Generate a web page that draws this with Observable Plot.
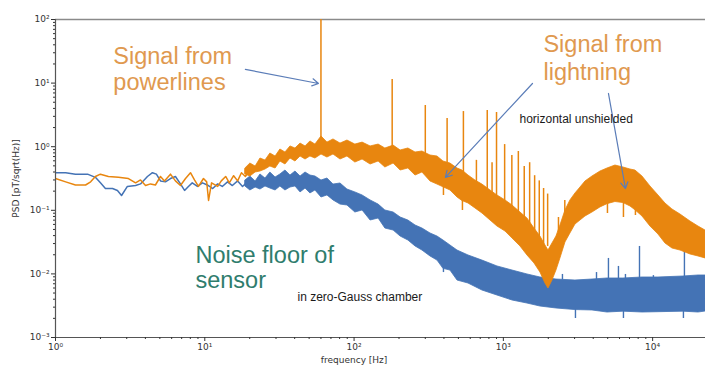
<!DOCTYPE html>
<html><head><meta charset="utf-8">
<script src="https://cdn.jsdelivr.net/npm/d3@7"></script>
<script src="https://cdn.jsdelivr.net/npm/@observablehq/plot@0.6"></script>
<style>body{margin:0;background:#fff}</style>
</head><body><div id="chart"></div>
<script>
// ---- data ----
// low-frequency traces (Hz, pT/sqrt(Hz))
const blueLowF = [1,1.17,1.36,1.64,1.85,2.0,2.16,2.41,2.60,2.77,3.03,3.44,3.71,4.13,4.46,4.74,5.05,5.45,5.89,6.36,6.87,7.32,7.77,8.24,8.93,9.65,10.4,11.3,12.2,13.1,14.2,15.3,16.6,17.9,19.3];
const blueLowV = [0.39,0.39,0.37,0.37,0.33,0.27,0.22,0.22,0.205,0.171,0.237,0.245,0.26,0.34,0.39,0.37,0.29,0.28,0.316,0.34,0.26,0.205,0.237,0.27,0.237,0.27,0.25,0.22,0.26,0.237,0.28,0.245,0.29,0.237,0.28];
const orangeLowF = [1,1.17,1.36,1.59,1.72,1.85,2.0,2.26,2.64,3.08,3.44,3.71,4.01,4.33,4.67,5.05,5.37,5.89,6.36,6.87,7.43,8.02,8.53,9.07,9.8,10.3,10.6,11.1,12.2,12.9,13.8,14.6,15.6,16.6,17.6,18.7,19.9];
const orangeLowV = [0.316,0.28,0.25,0.25,0.28,0.34,0.37,0.34,0.33,0.316,0.27,0.30,0.245,0.26,0.25,0.34,0.29,0.37,0.29,0.245,0.316,0.39,0.30,0.237,0.316,0.28,0.143,0.27,0.237,0.29,0.34,0.27,0.35,0.29,0.39,0.34,0.42];

// noisy band envelopes above ~19 Hz (upper / lower edge)
const orangeBandF  = [18.7,20.2,21.9,23.6,25.5,27.5,29.8,32.1,34.7,37.5,40.5,43.8,47.3,51.0,55.1,60.5,66.3,72.8,81.1,90.3,102,114,129,146,162,184,205,231,258,287,325,362,397,442,493,532,584,650,724,820,913,1033,1151,1302,1450,1616,1772,1914,2005,2133,2268,2412,2606,2813,3041,3285,3548,3953,4472,4981,5634,6375,7100,7669,8546,9667,10940,12180,13570,15360,17920,20270,22590];
const orangeBandHi = [0.454,0.544,0.488,0.652,0.607,0.782,0.701,0.904,0.811,1.01,0.937,1.12,1.01,1.21,1.08,1.45,1.16,1.30,1.12,1.25,1.08,1.16,1.01,1.08,0.937,1.04,0.872,0.937,0.811,0.840,0.727,0.701,0.585,0.544,0.454,0.422,0.352,0.294,0.254,0.205,0.171,0.143,0.119,0.0923,0.0743,0.0517,0.0387,0.0280,0.0233,0.0301,0.0387,0.0577,0.0993,0.143,0.184,0.228,0.284,0.340,0.407,0.454,0.506,0.471,0.438,0.422,0.340,0.237,0.171,0.128,0.103,0.0859,0.0666,0.0556,0.0481];
const orangeBandLo = [0.366,0.340,0.393,0.407,0.438,0.488,0.454,0.585,0.525,0.652,0.585,0.701,0.629,0.701,0.652,0.754,0.676,0.754,0.629,0.701,0.564,0.629,0.525,0.585,0.471,0.544,0.422,0.454,0.352,0.393,0.284,0.254,0.23,0.205,0.159,0.14,0.128,0.107,0.0891,0.0691,0.0556,0.0464,0.0360,0.0270,0.0195,0.0146,0.0105,0.00706,0.00589,0.00787,0.0113,0.0175,0.0312,0.0432,0.0598,0.0691,0.0799,0.0923,0.111,0.125,0.135,0.13,0.115,0.1,0.08,0.0556,0.0416,0.0301,0.0251,0.0233,0.0202,0.0188,0.0175];

const blueBandF  = [18.7,20.2,21.9,23.6,25.5,27.5,29.8,32.1,34.7,37.5,40.5,43.8,47.3,51.0,55.1,60.5,66.3,72.8,81.1,90.3,102,114,129,146,162,184,205,231,258,287,325,362,397,442,493,584,724,913,1151,1450,1772,2268,3041,3953,4981,6375,8546,10940,16080,20270,22590];
const blueBandHi = [0.294,0.340,0.284,0.366,0.316,0.393,0.328,0.366,0.422,0.352,0.407,0.340,0.393,0.352,0.340,0.294,0.316,0.254,0.264,0.212,0.191,0.171,0.143,0.123,0.0993,0.0923,0.0771,0.0691,0.0577,0.0517,0.0432,0.0387,0.0335,0.0280,0.0233,0.0195,0.0162,0.0131,0.0113,0.0098,0.00878,0.00816,0.00787,0.00816,0.00847,0.00847,0.00878,0.00878,0.0091,0.00944,0.00944];
const blueBandLo = [0.237,0.205,0.228,0.212,0.237,0.220,0.205,0.237,0.205,0.228,0.237,0.191,0.220,0.184,0.205,0.159,0.171,0.143,0.123,0.119,0.0923,0.0993,0.0691,0.0743,0.0517,0.0481,0.0387,0.0335,0.0270,0.0233,0.0188,0.0162,0.012,0.0113,0.00787,0.00706,0.00548,0.00457,0.00382,0.00342,0.00307,0.00286,0.0027,0.00266,0.00247,0.00255,0.00247,0.0025,0.00255,0.00247,0.00256];

// spectral lines (upward spikes) and narrow downward dips
const orangeSpikeF    = [60,180,300,420,540,660,780,840,900,1020,1140,1260,1380,1500,1620,1740,1860,1980,2340,2580];
const orangeSpikeTop  = [100,11.4,4.44,2.78,3.57,0.61,3.71,0.56,3.45,1.08,0.73,0.84,0.49,0.56,0.35,0.29,0.22,0.18,0.077,0.143];
const orangeSpikeBase = [1.2,0.9,0.7,0.55,0.38,0.28,0.2,0.18,0.16,0.13,0.11,0.09,0.07,0.06,0.045,0.033,0.028,0.027,0.045,0.09];
const orangeDipF   = [397,532,4981,6375,7669];
const orangeDipLow = [0.171,0.0993,0.0891,0.0771,0.0828];
const orangeDipTop = [0.3,0.18,0.15,0.15,0.13];
const blueSpikeF    = [2488,4207,5058,5902,6575,8165,10120,16330];
const blueSpikeTop  = [0.0098,0.0105,0.0175,0.0131,0.0098,0.027,0.0094,0.0312];
const blueSpikeBase = [0.008,0.008,0.008,0.008,0.008,0.008,0.008,0.008];
const blueDipF   = [397,3041,6375,16080];
const blueDipLow = [0.0105,0.00199,0.00199,0.00199];
const blueDipTop = [0.02,0.0035,0.0035,0.0035];

// axis ticks
const xTicks = [1,10,100,1000,10000];
const yTicks = [0.001,0.01,0.1,1,10,100];

// annotations (data coordinates)
const noteText = ["Signal from","powerlines","Signal from","lightning","horizontal unshielded","Noise floor of","sensor","in zero-Gauss chamber"];
const noteF    = [2.44,2.44,1856,1856,1282,8.66,8.66,41.8];
const noteV    = [20.3,7.65,30.3,11.0,2.40,0.0151,0.0061,0.0038];
const noteKind = ["big-orange","big-orange","big-orange","big-orange","small","big-teal","big-teal","small"];
const arrowF1 = [18.7,1567,5058];
const arrowV1 = [16.4,9.86,6.87];
const arrowF2 = [57.8,409,6575];
const arrowV2 = [9.86,0.33,0.22];

// ---- drawing ----
const ORANGE = "#e8860f", BLUE = "#4473b5";
const sup = {"-":"\u207B","0":"\u2070","1":"\u00B9","2":"\u00B2","3":"\u00B3","4":"\u2074","5":"\u2075"};
const pow = d => "10" + String(Math.round(Math.log10(d))).split("").map(c => sup[c]).join("");
const minor = majors => majors.slice(0, -1).flatMap(m => [2,3,4,5,6,7,8,9].map(k => m * k));
const idx = a => a.map((_, i) => i);

const bigStyle = {fontFamily: "Liberation Sans, Arial, sans-serif", fontSize: 23.5};
const chart = Plot.plot({
  width: 705, height: 369,
  marginLeft: 55, marginRight: 0, marginTop: 19, marginBottom: 32,
  x: {type: "log", domain: [1, 22600]},
  y: {type: "log", domain: [0.001, 100]},
  style: {fontFamily: "DejaVu Sans, sans-serif", fontSize: "9px", color: "#333", background: "white"},
  marks: [
    Plot.ruleY([100], {stroke: "#8a8a8a", strokeWidth: 1.5}),
    // blue (zero-Gauss chamber)
    Plot.ruleX(idx(blueSpikeF), {x: i => blueSpikeF[i], y1: i => blueSpikeBase[i], y2: i => blueSpikeTop[i], stroke: BLUE, strokeWidth: 1.4, clip: true}),
    Plot.ruleX(idx(blueDipF), {x: i => blueDipF[i], y1: i => blueDipTop[i], y2: i => blueDipLow[i], stroke: BLUE, strokeWidth: 1.4, clip: true}),
    Plot.areaY(idx(blueBandF), {x: i => blueBandF[i], y1: i => blueBandLo[i], y2: i => blueBandHi[i], fill: BLUE, stroke: BLUE, strokeWidth: 0.8, clip: true}),
    Plot.line(idx(blueLowF), {x: i => blueLowF[i], y: i => blueLowV[i], stroke: BLUE, strokeWidth: 1.5, clip: true}),
    // orange (horizontal unshielded)
    Plot.ruleX(idx(orangeSpikeF), {x: i => orangeSpikeF[i], y1: i => orangeSpikeBase[i], y2: i => orangeSpikeTop[i], stroke: ORANGE, strokeWidth: 1.5, clip: true}),
    Plot.ruleX(idx(orangeDipF), {x: i => orangeDipF[i], y1: i => orangeDipTop[i], y2: i => orangeDipLow[i], stroke: ORANGE, strokeWidth: 1.5, clip: true}),
    Plot.areaY(idx(orangeBandF), {x: i => orangeBandF[i], y1: i => orangeBandLo[i], y2: i => orangeBandHi[i], fill: ORANGE, stroke: ORANGE, strokeWidth: 0.8, clip: true}),
    Plot.line(idx(orangeLowF), {x: i => orangeLowF[i], y: i => orangeLowV[i], stroke: ORANGE, strokeWidth: 1.5, clip: true}),
    // frame
    Plot.ruleX([1], {stroke: "#555", strokeWidth: 1.2}),
    Plot.ruleY([0.001], {stroke: "#555", strokeWidth: 1.2}),
    // axes
    Plot.axisY(yTicks, {tickFormat: pow, tickSize: 4, tickPadding: 2, label: "PSD [pT/sqrt(Hz)]", labelAnchor: "center", labelArrow: "none", labelOffset: 43}),
    Plot.axisY(minor(yTicks), {tickSize: 2, tickFormat: () => "", label: null}),
    Plot.axisX(xTicks, {tickFormat: pow, tickSize: 4, tickPadding: 2, label: null}),
    Plot.axisX(minor(xTicks), {tickSize: 2, tickFormat: () => "", label: null}),
    Plot.text([100], {x: d => d, frameAnchor: "bottom", dy: 25, text: () => "frequency [Hz]"}),
    // annotations
    Plot.arrow(idx(arrowF1), {x1: i => arrowF1[i], y1: i => arrowV1[i], x2: i => arrowF2[i], y2: i => arrowV2[i], stroke: "#5b7db8", strokeWidth: 1.2, headLength: 9, bend: false}),
    Plot.text(idx(noteText).filter(i => noteKind[i] === "big-orange"), {x: i => noteF[i], y: i => noteV[i], text: i => noteText[i], textAnchor: "start", lineAnchor: "bottom", fill: "#e0994f", ...bigStyle}),
    Plot.text(idx(noteText).filter(i => noteKind[i] === "big-teal"), {x: i => noteF[i], y: i => noteV[i], text: i => noteText[i], textAnchor: "start", lineAnchor: "bottom", fill: "#2f7d6d", ...bigStyle}),
    Plot.text(idx(noteText).filter(i => noteKind[i] === "small"), {x: i => noteF[i], y: i => noteV[i], text: i => noteText[i], textAnchor: "start", lineAnchor: "bottom", fill: "#1a1a1a", fontFamily: "Liberation Sans, Arial, sans-serif", fontSize: 12})
  ]
});
document.getElementById("chart").appendChild(chart);
</script></body></html>
